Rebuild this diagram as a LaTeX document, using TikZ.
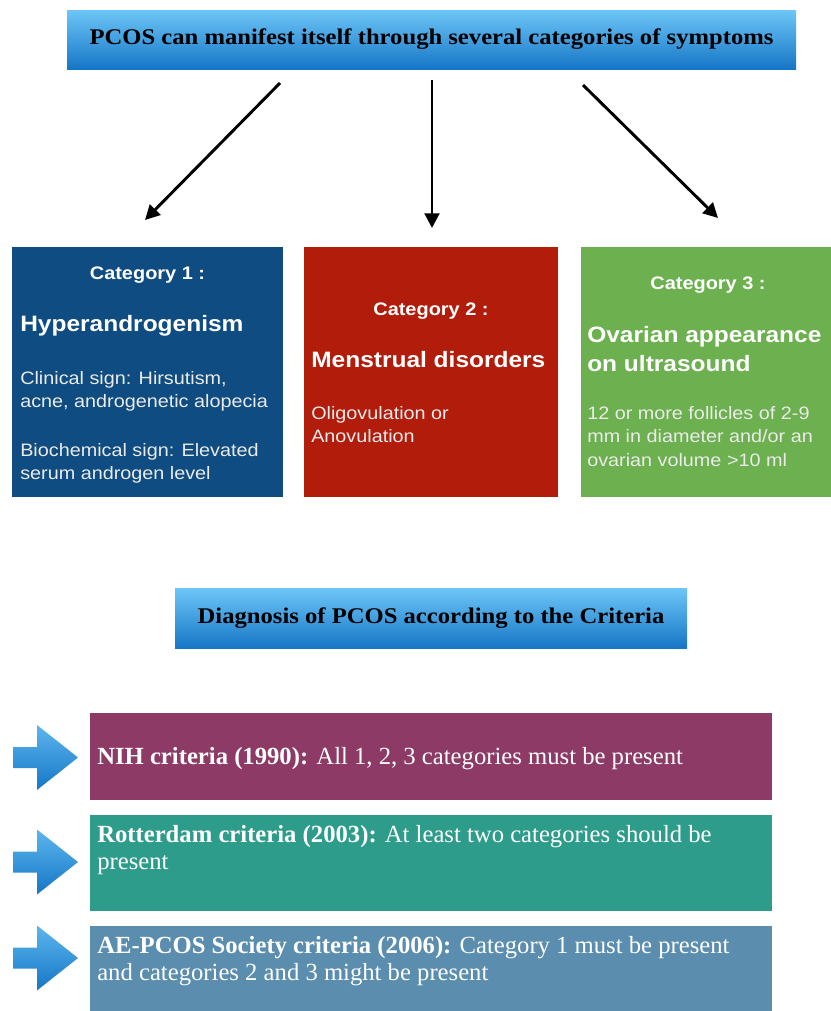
\documentclass[tikz,border=0pt]{standalone}
\usepackage{fontspec}
\setmainfont{Liberation Serif}
\newfontfamily\pcosSans[FakeStretch=1.1]{Liberation Sans}
\newfontfamily\pcosSerif[FakeStretch=1.1]{Liberation Serif}
\usetikzlibrary{arrows.meta}
\definecolor{skytop}{HTML}{6DC6F7}
\definecolor{skybot}{HTML}{1676C6}
\definecolor{catone}{HTML}{0F4C81}
\definecolor{cattwo}{HTML}{B21C0B}
\definecolor{catthree}{HTML}{6CB04F}
\definecolor{critnih}{HTML}{8D3B66}
\definecolor{critrot}{HTML}{2E9C8A}
\definecolor{critae}{HTML}{5A8DAE}
\begin{document}
\begin{tikzpicture}[x=0.75pt, y=-0.75pt,
  banner/.style={top color=skytop, bottom color=skybot, inner sep=0pt,
    font=\pcosSerif\bfseries\fontsize{16.8}{20}\selectfont},
  catbox/.style={inner sep=0pt, minimum height=250*\pxsz},
  critbox/.style={inner sep=0pt, minimum width=682*\pxsz},
  cathead/.style={anchor=base, inner sep=0pt, text=white,
    font=\pcosSans\bfseries\fontsize{13.6}{16}\selectfont},
  cattitle/.style={inner sep=0pt, text=white, align=left,
    font=\pcosSans\bfseries\fontsize{16.7}{21.8}\selectfont},
  catbody/.style={anchor=north west, inner sep=0pt, text=white!92!black, align=left,
    font=\pcosSans\fontsize{13.5}{17.6}\selectfont},
  crittext/.style={anchor=north west, inner sep=0pt, text=white, align=left,
    font=\fontsize{18.5}{20.3}\selectfont},
  link/.style={line width=\pcosLinkWidth, -{Triangle[length=11pt,width=11pt]}},
]
% Diagram coordinates are pixels of the source figure (y grows downwards)
\def\pxsz{0.75pt}
\providecommand{\pcosLinkWidth}{2.2pt}
\useasboundingbox (0,0) rectangle (831,1011);
% Top banner
\node[banner, minimum width=729*\pxsz, minimum height=59*\pxsz] (symptoms) at (431.5,39.5)
  {PCOS can manifest itself through several categories of symptoms};
% Category boxes
\node[catbox, fill=catone, minimum width=271*\pxsz] (cat1) at (147.5,372) {};
\node[catbox, fill=cattwo, minimum width=254*\pxsz] (cat2) at (431,372) {};
\node[catbox, fill=catthree, minimum width=250*\pxsz] (cat3) at (706,372) {};
% Category 1
\node[cathead] (cat1head) at (147.5,279) {Category 1 :};
\node[cattitle, anchor=base west] (cat1title) at (20,331) {Hyperandrogenism};
\node[catbody] (cat1clin) at (20,371) {Clinical sign: Hirsutism,\\acne, androgenetic alopecia};
\node[catbody] (cat1bio) at (20,443) {Biochemical sign: Elevated\\serum androgen level};
% Category 2
\node[cathead] (cat2head) at (431,315) {Category 2 :};
\node[cattitle, anchor=base west] (cat2title) at (311,367) {Menstrual disorders};
\node[catbody] (cat2body) at (311,406) {Oligovulation or\\Anovulation};
% Category 3
\node[cathead] (cat3head) at (708,289) {Category 3 :};
\node[cattitle, anchor=north west] (cat3title) at (587,326) {Ovarian appearance\\on ultrasound};
\node[catbody] (cat3body) at (587,406) {12 or more follicles of 2-9\\mm in diameter and/or an\\ovarian volume >10 ml};
% Arrows from the banner to the categories
\coordinate (from1) at (280,83);
\coordinate (from2) at (432,80);
\coordinate (from3) at (583,85);
\coordinate (to1) at (145,220);
\coordinate (to2) at (432,228);
\coordinate (to3) at (718,218);
\draw[link] (from1) -- (to1);
\draw[link] (from2) -- (to2);
\draw[link] (from3) -- (to3);
% Second banner
\node[banner, minimum width=512*\pxsz, minimum height=60*\pxsz] (diagnosis) at (431,618)
  {Diagnosis of PCOS according to the Criteria};
% Criteria boxes
\node[critbox, fill=critnih, minimum height=87*\pxsz] (nih) at (431,756.5) {};
\node[critbox, fill=critrot, minimum height=96*\pxsz] (rotterdam) at (431,863) {};
\node[critbox, fill=critae, minimum height=85*\pxsz] (aepcos) at (431,968.5) {};
\node[crittext] (nihtext) at (97,747) {\textbf{NIH criteria (1990):} All 1, 2, 3 categories must be present};
\node[crittext] (rottext) at (97,825) {\textbf{Rotterdam criteria (2003):} At least two categories should be\\present};
\node[crittext] (aetext) at (97,936) {\textbf{AE-PCOS Society criteria (2006):} Category 1 must be present\\and categories 2 and 3 might be present};
% Block arrows
\foreach \cy in {757.5,862,958}
  \path[top color=skytop!80!skybot, bottom color=skybot]
    (13,\cy-10.5) -- (37,\cy-10.5) -- (37,\cy-32.5) -- (78,\cy) -- (37,\cy+32.5)
    -- (37,\cy+10.5) -- (13,\cy+10.5) -- cycle;
\end{tikzpicture}
\end{document}
